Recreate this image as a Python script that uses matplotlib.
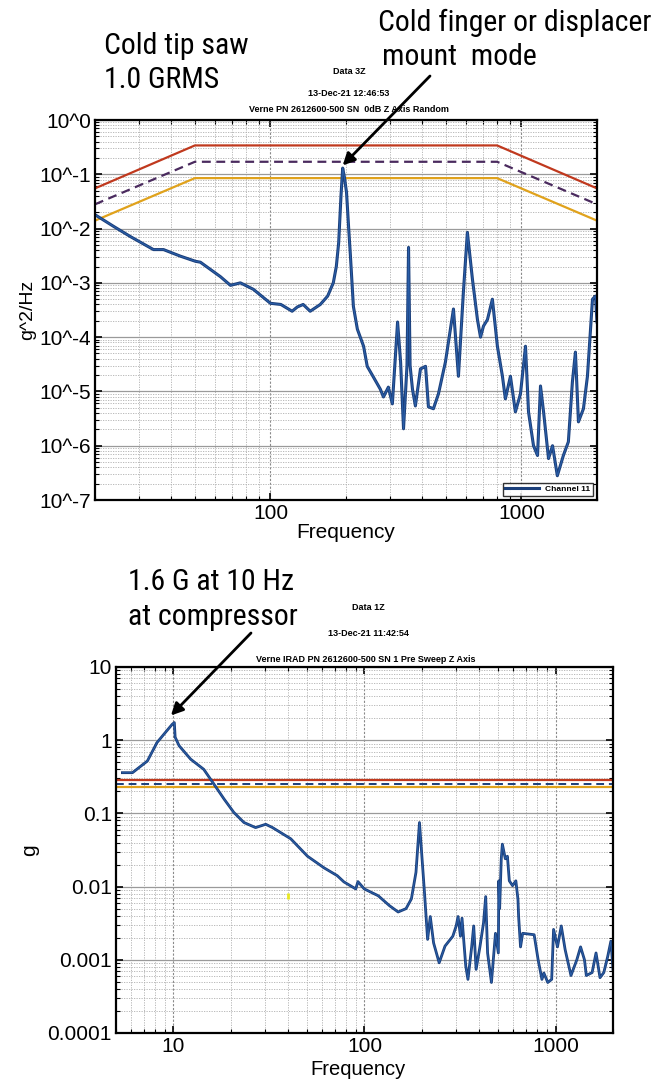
import os
import matplotlib
matplotlib.use('Agg')
import matplotlib.pyplot as plt
from matplotlib import font_manager as fm
from matplotlib.ticker import FixedLocator, NullFormatter, FixedFormatter, LogLocator

# ---------------- data: top chart (random vibration PSD) ----------------
psd_freq = [20, 23.7, 27.7, 34.2, 37.5, 43.8, 50.2, 52.6, 63.2, 69.3, 75.9, 85.5,
            100, 110, 122, 128, 135, 144, 158, 169, 178, 183, 187, 191, 194, 197,
            201, 205, 208, 214, 222, 235, 243, 257, 274, 282, 295, 306, 321, 330,
            339, 350, 355, 360, 368, 378, 396, 415, 426, 446, 467, 498, 536, 561,
            587, 609, 638, 668, 687, 706, 732, 766, 802, 840, 863, 904, 946, 991,
            1038, 1067, 1117, 1159, 1191, 1225, 1282, 1330, 1390, 1469, 1538, 1596,
            1641, 1687, 1766, 1832, 1919, 1972, 2000]
psd_vals = [0.018, 0.011, 0.0071, 0.0041, 0.0041, 0.0031, 0.0025, 0.0024, 0.0013,
            0.0009, 0.001, 0.00076, 0.00042, 0.0004, 0.0003, 0.00036, 0.0004, 0.0003,
            0.0004, 0.00057, 0.001, 0.002, 0.0055, 0.04, 0.13, 0.09, 0.046, 0.01,
            0.0035, 0.00037, 0.00014, 6.8e-5, 2.9e-5, 1.85e-5, 1.1e-5, 7.9e-6, 1.2e-5,
            5.9e-6, 1.9e-4, 3.5e-5, 2.05e-6, 3e-5, 4.5e-3, 3e-5, 1.1e-5, 5.4e-6,
            2.6e-5, 2.9e-5, 5.2e-6, 4.8e-6, 9e-6, 3.5e-5, 3.3e-4, 1.9e-5, 6.7e-4,
            8.5e-3, 1.16e-3, 2.1e-4, 1e-4, 1.6e-4, 2.1e-4, 5e-4, 6.8e-5, 1.9e-5,
            7.3e-6, 1.9e-5, 4.2e-6, 9e-6, 6.8e-5, 4.2e-6, 1e-6, 6.6e-7, 1.26e-5,
            4.2e-6, 5.8e-7, 1e-6, 2.8e-7, 6.6e-7, 1.18e-6, 1.5e-5, 5.3e-5, 2.75e-6,
            4.8e-6, 1.9e-5, 5e-4, 5.7e-4, 1.9e-4]
spec_freq = [20, 50, 800, 2000]
spec_upper = [0.055, 0.34, 0.34, 0.055]
spec_nominal = [0.028, 0.17, 0.17, 0.028]
spec_lower = [0.014, 0.085, 0.085, 0.014]
top_yticks = [1e-7, 1e-6, 1e-5, 1e-4, 1e-3, 1e-2, 1e-1, 1e0]
top_ylabels = ['10^-7', '10^-6', '10^-5', '10^-4', '10^-3', '10^-2', '10^-1', '10^0']
top_xticks = [100, 1000]
top_xlabels = ['100', '1000']

# ---------------- data: bottom chart (sine sweep) ----------------
sweep_freq = [5.4, 6.1, 7.3, 8.2, 9.1, 9.85, 10.1, 10.2, 10.7, 12.3, 14.4, 16.3, 18.4,
              20.7, 23.4, 26.9, 30.4, 33, 41.1, 50.3, 61.5, 72, 78, 90, 92.4, 99.7,
              118, 135, 150, 165, 176, 186, 194, 206, 214, 221, 230, 246, 264, 290,
              302, 309, 318, 324, 339, 348, 364, 373, 384, 402, 420, 431, 441, 462,
              485, 502, 505, 510, 520, 527, 546, 560, 573, 596, 620, 636, 641, 656,
              673, 773, 811, 849, 869, 911, 955, 977, 1024, 1072, 1123, 1205, 1293,
              1353, 1418, 1450, 1555, 1630, 1710, 1790, 1875, 1950, 2000]
sweep_g = [0.36, 0.36, 0.52, 0.93, 1.29, 1.65, 1.74, 1.1, 0.84, 0.55, 0.40, 0.25, 0.157,
           0.103, 0.075, 0.064, 0.071, 0.064, 0.045, 0.026, 0.018, 0.0141, 0.0116,
           0.0093, 0.0117, 0.0093, 0.0075, 0.0055, 0.0045, 0.005, 0.0068, 0.0157,
           0.075, 0.0084, 0.0019, 0.0039, 0.0017, 0.00091, 0.00154, 0.0021, 0.0029,
           0.0039, 0.0021, 0.0037, 0.00082, 0.00054, 0.0015, 0.0029, 0.00074, 0.0015,
           0.0032, 0.0073, 0.00124, 0.00049, 0.0023, 0.00124, 0.012, 0.005, 0.024,
           0.038, 0.024, 0.026, 0.012, 0.0103, 0.012, 0.0067, 0.0039, 0.0015, 0.0023,
           0.0022, 0.001, 0.00054, 0.00066, 0.00049, 0.00054, 0.0026, 0.0015, 0.0029,
           0.00138, 0.00061, 0.001, 0.0015, 0.001, 0.00061, 0.00067, 0.00124, 0.00057,
           0.00067, 0.0011, 0.0018, 0.00074]
sweep_upper = 0.285
sweep_nominal = 0.255
sweep_lower = 0.228
speck_freq = [39.7]
speck_g = [0.0075]
bot_yticks = [1e-4, 1e-3, 1e-2, 1e-1, 1, 10]
bot_ylabels = ['0.0001', '0.001', '0.01', '0.1', '1', '10']
bot_xticks = [10, 100, 1000]
bot_xlabels = ['10', '100', '1000']

RED = '#c0391e'
ORANGE = '#e0a21c'
PURPLE = '#4a2a5e'
NAVY = '#1b3f7a'
BLUE = '#2a5ea8'
ARIAL = ['Liberation Sans', 'DejaVu Sans']


def pick_narrow_font():
    prefs = ['liberationsansnarrow-regular', 'arialn.', 'arialnarrow',
             'robotocondensed-regular', 'notosans-condensed.', 'dejavusanscondensed.',
             'opensans-condensed', 'opensans_condensed-regular', 'notosans-semicondensed.']
    files = [e.fname for e in fm.fontManager.ttflist]
    for p in prefs:
        for fn in files:
            if os.path.basename(fn).lower().replace(' ', '').startswith(p):
                return fm.FontProperties(fname=fn)
    return fm.FontProperties(family=ARIAL)


NARROW_FP = pick_narrow_font()

W, H = 655, 1080
fig = plt.figure(figsize=(W / 100, H / 100), dpi=100)
renderer = fig.canvas.get_renderer()


def fx(x):
    return x / W


def fy(y):
    return 1 - y / H


def big_size(sample, width_px, base=21):
    fp = NARROW_FP.copy()
    fp.set_size(base)
    t = fig.text(0, 0, sample, fontproperties=fp)
    w = t.get_window_extent(renderer).width
    t.remove()
    return min(base * width_px / w, 25)


BIG = big_size('Cold finger or displacer', 274)


def big_text(x, y, s):
    fp = NARROW_FP.copy()
    fp.set_size(BIG)
    return fig.text(fx(x), fy(y), s, fontproperties=fp, va='center', ha='left')


def style_axes(ax, xticks, xlabels, yticks, ylabels, xlim, ylim):
    ax.set_xscale('log')
    ax.set_yscale('log')
    ax.set_xlim(*xlim)
    ax.set_ylim(*ylim)
    ax.xaxis.set_major_locator(FixedLocator(xticks))
    ax.xaxis.set_major_formatter(FixedFormatter(xlabels))
    ax.xaxis.set_minor_locator(LogLocator(base=10, subs=range(2, 10), numticks=50))
    ax.xaxis.set_minor_formatter(NullFormatter())
    ax.yaxis.set_major_locator(FixedLocator(yticks))
    ax.yaxis.set_major_formatter(FixedFormatter(ylabels))
    ax.yaxis.set_minor_locator(LogLocator(base=10, subs=range(2, 10), numticks=50))
    ax.yaxis.set_minor_formatter(NullFormatter())
    ax.tick_params(which='both', direction='in', top=True, right=True)
    ax.tick_params(which='major', length=5, width=1.2, labelsize=15, pad=3)
    ax.tick_params(which='minor', length=3, width=0.8)
    for lab in ax.get_xticklabels() + ax.get_yticklabels():
        lab.set_family(ARIAL)
    ax.grid(True, which='major', axis='y', color='#9a9a9a', lw=0.9, ls='-')
    ax.grid(True, which='major', axis='x', color='#8a8a8a', lw=0.8, ls=(0, (2, 1.5)))
    ax.grid(True, which='minor', color='#b0b0b0', lw=0.6, ls=(0, (1.5, 1.5)))
    for s in ax.spines.values():
        s.set_linewidth(1.6)
    ax.set_axisbelow(True)


# ---------------- top chart ----------------
ax1 = fig.add_axes([fx(95), fy(500), fx(597) - fx(95), fy(120) - fy(500)])
style_axes(ax1, top_xticks, top_xlabels, top_yticks, top_ylabels, (20, 2000), (1e-7, 1))
ax1.plot(spec_freq, spec_upper, color=RED, lw=1.6)
ax1.plot(spec_freq, spec_nominal, color=PURPLE, lw=1.6, ls=(0, (4, 2.5)))
ax1.plot(spec_freq, spec_lower, color=ORANGE, lw=1.6)
ax1.plot(psd_freq, psd_vals, color=NAVY, lw=2.2, label='Channel 11')
ax1.plot(psd_freq, psd_vals, color=BLUE, lw=0.8)
ax1.set_xlabel('Frequency', fontsize=15, family=ARIAL)
ax1.xaxis.set_label_coords(0.5, -0.06)
ax1.set_ylabel('g^2/Hz', fontsize=14, family=ARIAL, labelpad=2)
leg = ax1.legend(loc='lower right', frameon=True, fancybox=False,
                 handlelength=4.0, borderpad=0.3, borderaxespad=0.5,
                 prop={'family': ARIAL, 'weight': 'bold', 'size': 6})
leg.get_frame().set_edgecolor('black')
leg.get_frame().set_linewidth(1.0)

ipk = psd_vals.index(max(psd_vals))
ax1.annotate('', xy=(psd_freq[ipk], psd_vals[ipk] * 1.12),
             xytext=(fx(430), fy(76)), textcoords='figure fraction',
             arrowprops=dict(arrowstyle='-|>', color='black', lw=2.0,
                             mutation_scale=18, shrinkA=0, shrinkB=0))

big_text(104, 46, 'Cold tip saw')
big_text(104, 80, '1.0 GRMS')
big_text(378, 23, 'Cold finger or displacer')
big_text(382, 57, 'mount  mode')
fig.text(fx(349), fy(71), 'Data 3Z', fontsize=6.5, family=ARIAL, weight='bold', ha='center', va='center')
fig.text(fx(349), fy(94), '13-Dec-21 12:46:53', fontsize=6.5, family=ARIAL, weight='bold', ha='center', va='center')
fig.text(fx(349), fy(109), 'Verne PN 2612600-500 SN  0dB Z Axis Random', fontsize=6.5,
         family=ARIAL, weight='bold', ha='center', va='center')

# ---------------- bottom chart ----------------
ax2 = fig.add_axes([fx(116), fy(1033), fx(613) - fx(116), fy(667) - fy(1033)])
style_axes(ax2, bot_xticks, bot_xlabels, bot_yticks, bot_ylabels, (5, 2000), (1e-4, 10))
ax2.axhline(sweep_upper, color=RED, lw=1.6)
ax2.axhline(sweep_nominal, color=NAVY, lw=1.4, ls=(0, (4, 2.5)))
ax2.axhline(sweep_lower, color=ORANGE, lw=1.6)
ax2.plot(sweep_freq, sweep_g, color=NAVY, lw=2.0)
ax2.plot(sweep_freq, sweep_g, color=BLUE, lw=0.7)
ax2.plot(speck_freq, speck_g, ls='none', marker='|', color='#e8e820', ms=5, mew=2)
ax2.set_xlabel('Frequency', fontsize=14.5, family=ARIAL)
ax2.xaxis.set_label_coords(0.487, -0.075)
ax2.set_ylabel('g', fontsize=15, family=ARIAL, labelpad=6)

jpk = sweep_g.index(max(sweep_g))
ax2.annotate('', xy=(sweep_freq[jpk] * 0.96, sweep_g[jpk] * 1.25),
             xytext=(fx(251), fy(633)), textcoords='figure fraction',
             arrowprops=dict(arrowstyle='-|>', color='black', lw=2.0,
                             mutation_scale=18, shrinkA=0, shrinkB=0))

big_text(128, 582, '1.6 G at 10 Hz')
big_text(128, 617, 'at compressor')
fig.text(fx(368), fy(607), 'Data 1Z', fontsize=6.5, family=ARIAL, weight='bold', ha='center', va='center')
fig.text(fx(368), fy(633), '13-Dec-21 11:42:54', fontsize=6.5, family=ARIAL, weight='bold', ha='center', va='center')
fig.text(fx(366), fy(659), 'Verne IRAD PN 2612600-500 SN 1 Pre Sweep Z Axis', fontsize=6.5,
         family=ARIAL, weight='bold', ha='center', va='center')

fig.savefig('out.png', dpi=100)
